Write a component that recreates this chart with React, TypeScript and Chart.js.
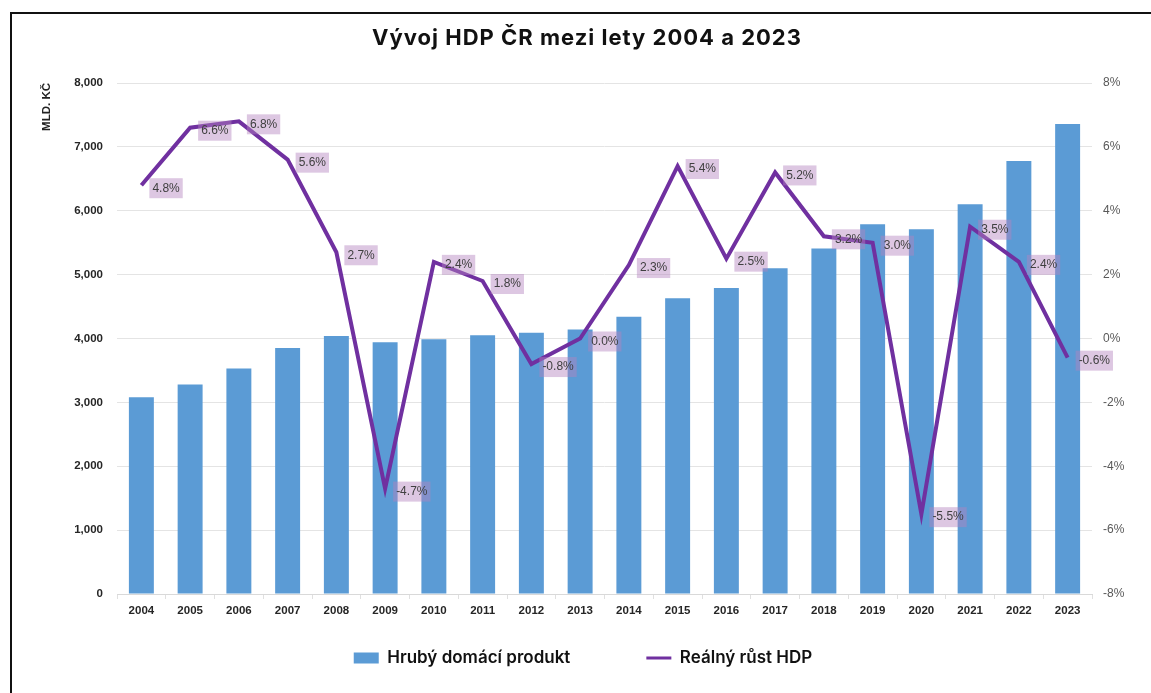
import { useEffect, useRef } from "react";
import { Chart, registerables } from "chart.js";

Chart.register(...registerables);

const TITLE = "Vývoj HDP ČR mezi lety 2004 a 2023";
const Y_TITLE = "MLD. KČ";
const SERIES_NAMES = ["Hrubý domácí produkt", "Reálný růst HDP"];

const years = [
  "2004", "2005", "2006", "2007", "2008", "2009", "2010", "2011", "2012", "2013",
  "2014", "2015", "2016", "2017", "2018", "2019", "2020", "2021", "2022", "2023",
];

// Nominal GDP, bn CZK
const gdp = [
  3080, 3280, 3530, 3850, 4040, 3940, 3990, 4050, 4090, 4140,
  4340, 4630, 4790, 5100, 5410, 5790, 5710, 6100, 6780, 7360,
];

// Real GDP growth, %
const growth = [
  4.8, 6.6, 6.8, 5.6, 2.7, -4.7, 2.4, 1.8, -0.8, 0.0,
  2.3, 5.4, 2.5, 5.2, 3.2, 3.0, -5.5, 3.5, 2.4, -0.6,
];

const BAR_COLOR = "#5B9BD5";
const LINE_COLOR = "#7030A0";
const BASE_FONT = "'Liberation Sans', Arial, sans-serif";

const titlePlugin = {
  id: "customTitle",
  afterDraw(chart: any) {
    const ctx = chart.ctx;
    ctx.save();
    ctx.font = "700 22px Inter";
    (ctx as any).letterSpacing = "1px";
    ctx.fillStyle = "#111111";
    ctx.textAlign = "center";
    ctx.textBaseline = "middle";
    ctx.fillText(TITLE, 587, 38);
    ctx.restore();
  },
};

const legendPlacer = {
  id: "legendPlacer",
  afterLayout(chart: any) {
    const lg = chart.legend;
    if (!lg) return;
    const P = lg.options.labels.padding;
    const fs = lg.options.labels.font.size;
    lg.top = 658 - P - fs / 2;
    lg.bottom = chart.height;
    lg.height = lg.bottom - lg.top;
    lg.left = 15;
    lg.right = chart.width;
    lg.width = lg.right - lg.left;
  },
};

const dataLabels = {
  id: "growthLabels",
  afterDatasetsDraw(chart: any) {
    const ctx = chart.ctx;
    const meta = chart.getDatasetMeta(1);
    ctx.save();
    ctx.font = `12px ${BASE_FONT}`;
    ctx.textBaseline = "middle";
    ctx.textAlign = "left";
    meta.data.forEach((pt: any, i: number) => {
      const { x, y } = pt.getProps(["x", "y"], true);
      const text = growth[i].toFixed(1) + "%";
      const w = ctx.measureText(text).width;
      const bx = x + 8;
      const cy = y + 3;
      ctx.fillStyle = "rgba(180,130,190,0.45)";
      ctx.fillRect(bx, cy - 10, w + 6, 20);
      ctx.fillStyle = "#404040";
      ctx.fillText(text, bx + 3, cy);
    });
    ctx.restore();
  },
};

export default function App() {
  const ref = useRef<HTMLCanvasElement | null>(null);

  useEffect(() => {
    if (!ref.current) return;
    Chart.defaults.font.family = BASE_FONT;
    const chart = new Chart(ref.current, {
      type: "bar",
      data: {
        labels: years,
        datasets: [
          {
            type: "bar",
            label: SERIES_NAMES[0],
            data: gdp,
            backgroundColor: BAR_COLOR,
            borderWidth: 0,
            yAxisID: "y",
            order: 2,
            categoryPercentage: 0.8,
            barPercentage: 0.64,
          },
          {
            type: "line",
            label: SERIES_NAMES[1],
            data: growth,
            borderColor: LINE_COLOR,
            backgroundColor: LINE_COLOR,
            borderWidth: 4,
            pointRadius: 0,
            tension: 0,
            yAxisID: "y1",
            order: 1,
          } as any,
        ],
      },
      options: {
        responsive: false,
        maintainAspectRatio: false,
        animation: false,
        layout: { padding: { left: 23, right: 0, top: 83, bottom: 68 } },
        plugins: {
          title: { display: false },
          tooltip: { enabled: false },
          legend: {
            display: true,
            position: "bottom",
            maxHeight: 1,
            labels: {
              usePointStyle: true,
              pointStyleWidth: 25,
              boxHeight: 11,
              padding: 76,
              color: "#111111",
              font: { family: "Inter", size: 17, weight: 600 },
              sort: (a: any, b: any) => a.datasetIndex - b.datasetIndex,
              generateLabels(chart: any) {
                const items = Chart.defaults.plugins.legend.labels.generateLabels(chart);
                items.forEach((it: any) => {
                  if (it.datasetIndex === 0) {
                    it.pointStyle = "rect";
                    it.fillStyle = BAR_COLOR;
                    it.strokeStyle = BAR_COLOR;
                    it.lineWidth = 0;
                  } else {
                    it.pointStyle = "line";
                    it.strokeStyle = LINE_COLOR;
                    it.lineWidth = 3;
                  }
                });
                return items;
              },
            },
          } as any,
        },
        scales: {
          x: {
            offset: true,
            grid: {
              display: true,
              drawOnChartArea: false,
              offset: true,
              tickLength: 5,
              color: "#e0e0e0",
            },
            border: { display: true, color: "#d9d9d9" },
            ticks: {
              padding: 5,
              color: "#262626",
              font: { size: 11.5, weight: "bold" },
              maxRotation: 0,
              autoSkip: false,
            },
            afterFit(s: any) {
              s.height = 30;
            },
          },
          y: {
            position: "left",
            min: 0,
            max: 8000,
            ticks: {
              stepSize: 1000,
              padding: 14,
              color: "#262626",
              font: { size: 11.5, weight: "bold" },
              callback: (v: any) => Number(v).toLocaleString("en-US"),
            },
            grid: { color: "#e4e4e4", drawTicks: false },
            border: { display: false },
            title: {
              display: true,
              text: Y_TITLE,
              align: "end",
              color: "#222222",
              font: { size: 11.5, weight: "bold" },
              padding: { top: 17, bottom: 0 },
            },
            afterFit(s: any) {
              s.width = 94;
            },
          },
          y1: {
            position: "right",
            min: -8,
            max: 8,
            ticks: {
              stepSize: 2,
              padding: 11,
              color: "#595959",
              font: { size: 12 },
              callback: (v: any) => `${v}%`,
            },
            grid: { display: false, drawTicks: false },
            border: { display: false },
            afterFit(s: any) {
              s.width = 59;
            },
          },
        },
      },
      plugins: [titlePlugin, legendPlacer, dataLabels],
    } as any);
    return () => chart.destroy();
  }, []);

  return (
    <>
      <div
        style={{
          position: "fixed",
          left: 10,
          top: 12,
          width: 2000,
          height: 2000,
          borderLeft: "2px solid #111",
          borderTop: "2px solid #111",
          background: "#fff",
        }}
      />
      <canvas
        ref={ref}
        width={1151}
        height={693}
        style={{ position: "fixed", left: 0, top: 0, width: 1151, height: 693 }}
      />
    </>
  );
}
